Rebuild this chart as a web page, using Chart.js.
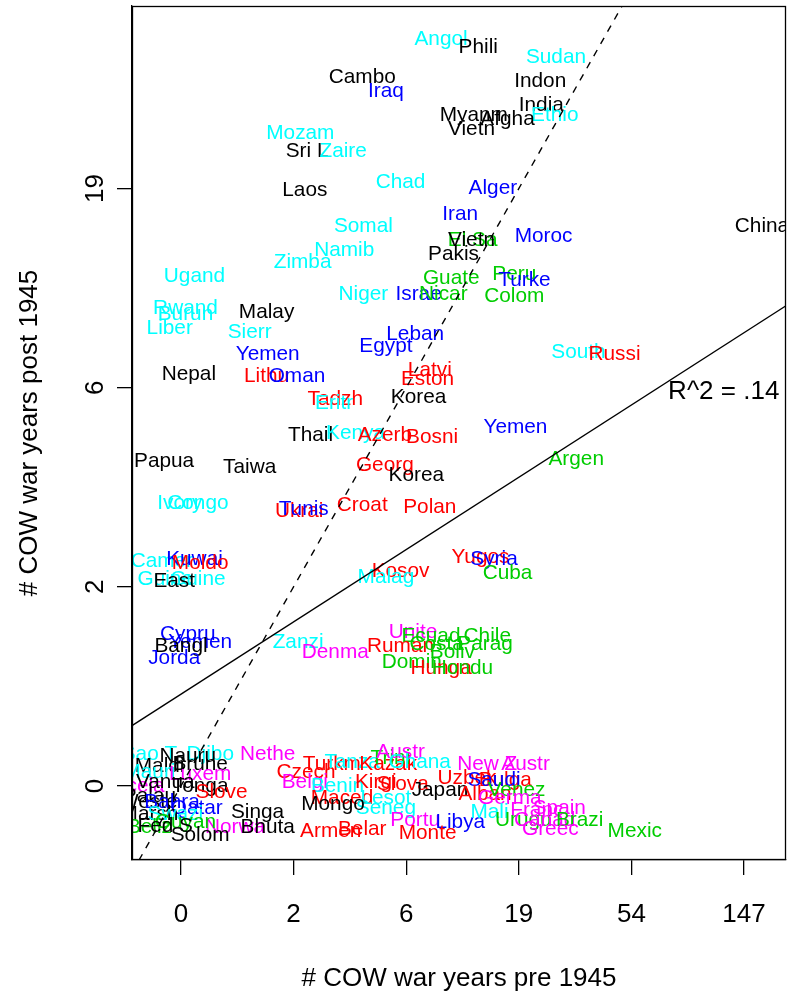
<!DOCTYPE html>
<html>
<head>
<meta charset="utf-8">
<script src="https://cdn.jsdelivr.net/npm/chart.js@4.4.1/dist/chart.umd.min.js"></script>
<style>
  html, body { margin: 0; padding: 0; background: #ffffff; }
  #wrap { width: 789px; height: 995px; }
</style>
</head>
<body>
<div id="wrap"><canvas id="chart" width="789" height="995"></canvas></div>
<script>
// Country abbreviations, in drawing order (later labels sit on top).
const countries = [
  "Angol","Phili","Sudan","Cambo","Indon","Iraq","India","Ethio","Myanm","Afgha",
  "Vietn","Mozam","Sri L","Zaire","Laos","Chad","Alger","Iran","Somal","El Sa",
  "Vietn","Moroc","China","Namib","Pakis","Zimba","Ugand","Guate","Peru","Turke",
  "Niger","Israe","Nicar","Colom","Rwand","Burun","Malay","Liber","Sierr","Leban",
  "Egypt","South","Russi","Yemen","Nepal","Lithu","Oman","Latvi","Eston","Tadzh",
  "Eritr","Korea","Thail","Kenya","Azerb","Bosni","Yemen","Papua","Taiwa","Georg",
  "Korea","Argen","Ivory","Congo","Ukrai","Tunis","Croat","Polan","Camer","Kuwai",
  "Moldo","Guine","Guine","East","Kosov","Malag","Yugos","Syria","Cuba","Cypru",
  "Yemen","Bangl","Jorda","Zanzi","Denma","Unite","Ecuad","Chile","Parag","Ruman",
  "Costa","Boliv","Domin","Hunga","Hondu","Nethe","Czech","Turkm","Tanza","Kazak",
  "Trini","Austr","Ghana","Belgi","Benin","Kirgi","Slova","Japan","Uzbek","Maced",
  "Lesot","Seneg","Mongo","Portu","Libya","Armen","Belar","Monte","New Z","Austr",
  "Bulga","Saudi","Alban","Venez","Germa","Mali","Franc","Spain","Urugu","Canad",
  "Brazi","Greec","Mexic","Singa","Norwa","Bhuta","Sao T","Djibo","Nauru","Maldi",
  "Brune","Mauri","Luxem","Icela","Vanua","Tonga","Slove","Palau","Weste","Bahra",
  "Qatar","Marsh","Swazi","Beliz","Guyan","Fed S","Solom"
];

// Region code per country:
// A = Asia/Pacific, F = Sub-Saharan Africa, M = Middle East/North Africa,
// E = Eastern Europe/former USSR, L = Latin America, W = Western Europe/West
const region = [
  "F","A","F","A","A","M","A","F","A","A",
  "A","F","A","F","A","F","M","M","F","L",
  "A","M","A","F","A","F","F","L","L","M",
  "F","M","L","L","F","F","A","F","F","M",
  "M","F","E","M","A","E","M","E","E","E",
  "F","A","A","F","E","E","M","A","A","E",
  "A","L","F","F","E","M","E","E","F","M",
  "E","F","F","A","E","F","E","M","L","M",
  "M","A","M","F","W","W","L","L","L","E",
  "L","L","L","E","L","W","E","E","F","E",
  "L","W","F","W","F","E","E","A","E","E",
  "F","F","A","W","M","E","E","E","W","W",
  "E","M","E","L","W","F","W","W","L","W",
  "L","W","L","A","W","A","F","F","A","A",
  "A","F","W","W","A","A","E","A","A","M",
  "M","A","F","L","L","A","A"
];

// Pre-1945 war years, plotted as log(1 + years), with jitter.
const preWar = [
  2.31, 2.64, 3.33, 1.61, 3.19, 1.82, 3.20, 3.32, 2.60, 2.90,
  2.58, 1.06, 1.12, 1.44, 1.10, 1.95, 2.77, 2.48, 1.62, 2.59,
  2.58, 3.22, 5.16, 1.45, 2.42, 1.08, 0.12, 2.40, 2.96, 3.05,
  1.62, 2.11, 2.33, 2.96, 0.04, 0.04, 0.76, -0.10, 0.61, 2.08,
  1.82, 3.53, 3.85, 0.77, 0.07, 0.76, 1.03, 2.21, 2.19, 1.37,
  1.36, 2.11, 1.15, 1.55, 1.81, 2.23, 2.97, -0.15, 0.61, 1.81,
  2.09, 3.51, -0.01, 0.15, 1.05, 1.09, 1.61, 2.21, -0.17, 0.12,
  0.17, -0.14, 0.15, -0.06, 1.95, 1.82, 2.66, 2.78, 2.90, 0.06,
  0.17, 0.00, -0.06, 1.04, 1.37, 2.06, 2.22, 2.72, 2.70, 1.95,
  2.27, 2.41, 2.05, 2.31, 2.50, 0.77, 1.11, 1.34, 1.52, 1.84,
  1.86, 1.95, 2.12, 1.10, 1.39, 1.73, 1.97, 2.30, 2.54, 1.43,
  1.82, 1.82, 1.35, 2.08, 2.48, 1.33, 1.61, 2.19, 2.72, 3.06,
  2.88, 2.78, 2.70, 2.98, 2.92, 2.74, 3.16, 3.36, 3.04, 3.23,
  3.54, 3.28, 4.03, 0.68, 0.48, 0.77, -0.28, 0.26, 0.06, -0.19,
  0.17, -0.28, 0.17, -0.34, -0.14, 0.17, 0.36, -0.28, -0.29, -0.08,
  0.14, -0.28, -0.05, -0.28, 0.04, -0.14, 0.17
];

// Post-1945 war years, plotted as log(1 + years), with jitter.
const postWar = [
  3.76, 3.72, 3.67, 3.57, 3.55, 3.50, 3.43, 3.38, 3.38, 3.36,
  3.31, 3.29, 3.20, 3.20, 3.00, 3.04, 3.01, 2.88, 2.82, 2.75,
  2.75, 2.77, 2.82, 2.70, 2.68, 2.64, 2.57, 2.56, 2.58, 2.55,
  2.48, 2.48, 2.48, 2.47, 2.41, 2.38, 2.39, 2.31, 2.29, 2.28,
  2.22, 2.19, 2.18, 2.18, 2.08, 2.07, 2.07, 2.10, 2.05, 1.95,
  1.93, 1.96, 1.77, 1.78, 1.77, 1.76, 1.81, 1.64, 1.61, 1.62,
  1.57, 1.65, 1.43, 1.43, 1.39, 1.40, 1.42, 1.41, 1.14, 1.15,
  1.13, 1.05, 1.05, 1.04, 1.09, 1.06, 1.16, 1.15, 1.08, 0.77,
  0.73, 0.71, 0.65, 0.73, 0.68, 0.78, 0.76, 0.76, 0.72, 0.71,
  0.72, 0.68, 0.63, 0.60, 0.60, 0.17, 0.08, 0.12, 0.13, 0.12,
  0.15, 0.18, 0.13, 0.03, 0.01, 0.03, 0.02, -0.01, 0.05, -0.05,
  -0.05, -0.10, -0.08, -0.16, -0.17, -0.22, -0.21, -0.23, 0.12, 0.12,
  0.04, 0.04, -0.03, -0.01, -0.05, -0.12, -0.11, -0.10, -0.16, -0.16,
  -0.16, -0.21, -0.22, -0.12, -0.20, -0.20, 0.17, 0.17, 0.16, 0.11,
  0.12, 0.08, 0.07, 0.01, 0.03, 0.01, -0.02, -0.04, -0.07, -0.07,
  -0.10, -0.13, -0.13, -0.20, -0.17, -0.19, -0.24
];

// Axis ticks: positions on the log(1 + years) scale and their year labels.
const xTickPositions = [0, 1, 2, 3, 4, 5];
const xTickLabels = ["0", "2", "6", "19", "54", "147"];
const yTickPositions = [0, 1, 2, 3];
const yTickLabels = ["0", "2", "6", "19"];

// Least-squares fit of post- on pre-1945 (log scale) and its R^2 note.
const fitIntercept = 0.461;
const fitSlope = 0.363;
const fitNote = "R^2 = .14";
const fitNoteAt = { x: 4.82, y: 1.99 };

const xMin = -0.435, xMax = 5.373;
const yMin = -0.372, yMax = 3.917;

const regionColours = {
  A: "#000000", F: "#00FFFF", M: "#0000FF",
  E: "#FF0000", L: "#00CD00", W: "#FF00FF"
};

const FONT = '"Liberation Sans", Arial, Helvetica, sans-serif';
const axisFont = { family: FONT, size: 26 };
const labelFontPx = 20.8;
const textNudge = 2; // small downward shift so text centres sit on the point

const labelPoints = countries.map((_, i) => ({ x: preWar[i], y: postWar[i] }));

// Country names are written at each (invisible) point; the frame is drawn on top.
const labelPlugin = {
  id: "countryLabels",
  beforeDatasetsDraw(chart) {
    const { ctx, chartArea: a } = chart;
    const meta = chart.getDatasetMeta(0);
    ctx.save();
    ctx.beginPath();
    ctx.rect(a.left, a.top, a.right - a.left, a.bottom - a.top);
    ctx.clip();
    ctx.textAlign = "center";
    ctx.textBaseline = "middle";
    ctx.font = labelFontPx + "px " + FONT;
    meta.data.forEach((pt, i) => {
      ctx.fillStyle = regionColours[region[i]];
      ctx.fillText(countries[i], pt.x, pt.y + textNudge);
    });
    const xs = chart.scales.x, ys = chart.scales.y;
    ctx.fillStyle = "#000000";
    ctx.font = axisFont.size + "px " + FONT;
    ctx.fillText(fitNote, xs.getPixelForValue(fitNoteAt.x), ys.getPixelForValue(fitNoteAt.y) + textNudge);
    ctx.restore();
  },
  afterDraw(chart) {
    const { ctx, chartArea: a } = chart;
    ctx.save();
    ctx.strokeStyle = "#000000";
    ctx.lineWidth = 1.3;
    ctx.strokeRect(Math.round(a.left) + 0.5, Math.round(a.top) + 0.5,
                   Math.round(a.right - a.left) - 1, Math.round(a.bottom - a.top) - 1);
    ctx.restore();
  }
};

new Chart(document.getElementById("chart"), {
  type: "scatter",
  data: {
    datasets: [
      {
        label: "countries",
        data: labelPoints,
        pointRadius: 0,
        pointHoverRadius: 0
      },
      {
        label: "fit",
        data: [
          { x: xMin, y: fitIntercept + fitSlope * xMin },
          { x: xMax, y: fitIntercept + fitSlope * xMax }
        ],
        showLine: true,
        borderColor: "#000000",
        borderWidth: 1.4,
        pointRadius: 0
      },
      {
        label: "equal",
        data: [ { x: xMin, y: xMin }, { x: xMax, y: xMax } ],
        showLine: true,
        borderColor: "#000000",
        borderWidth: 1.4,
        borderDash: [7, 7],
        pointRadius: 0
      }
    ]
  },
  options: {
    responsive: false,
    animation: false,
    devicePixelRatio: 1,
    layout: { padding: { top: 6, right: 3, left: 0, bottom: 0 } },
    plugins: { legend: { display: false }, tooltip: { enabled: false } },
    events: [],
    scales: {
      x: {
        type: "linear",
        min: xMin,
        max: xMax,
        afterBuildTicks: (s) => { s.ticks = xTickPositions.map(v => ({ value: v })); },
        afterFit: (s) => { s.height = 135; s.paddingLeft = 0; s.paddingRight = 0; },
        ticks: {
          callback: (v, i) => xTickLabels[i],
          font: axisFont, color: "#000000",
          padding: 24, maxRotation: 0, autoSkip: false
        },
        grid: { drawOnChartArea: false, drawTicks: true, tickLength: 15, color: "#000000", lineWidth: 1.3 },
        border: { display: true, color: "#000000", width: 1.3 },
        title: {
          display: true, text: "# COW war years pre 1945",
          font: axisFont, color: "#000000", padding: { top: 0, bottom: 0.5 }
        }
      },
      y: {
        type: "linear",
        min: yMin,
        max: yMax,
        afterBuildTicks: (s) => { s.ticks = yTickPositions.map(v => ({ value: v })); },
        afterFit: (s) => { s.width = 132; s.paddingTop = 0; s.paddingBottom = 0; },
        ticks: {
          callback: (v, i) => yTickLabels[i],
          font: axisFont, color: "#000000",
          minRotation: 90, maxRotation: 90, crossAlign: "center",
          padding: 7, autoSkip: false
        },
        grid: { drawOnChartArea: false, drawTicks: true, tickLength: 15, color: "#000000", lineWidth: 1.3 },
        border: { display: true, color: "#000000", width: 1.3 },
        title: {
          display: true, text: "# COW war years post 1945",
          font: axisFont, color: "#000000", padding: { top: 14.4, bottom: 0 }
        }
      }
    }
  },
  plugins: [labelPlugin]
});
</script>
</body>
</html>
